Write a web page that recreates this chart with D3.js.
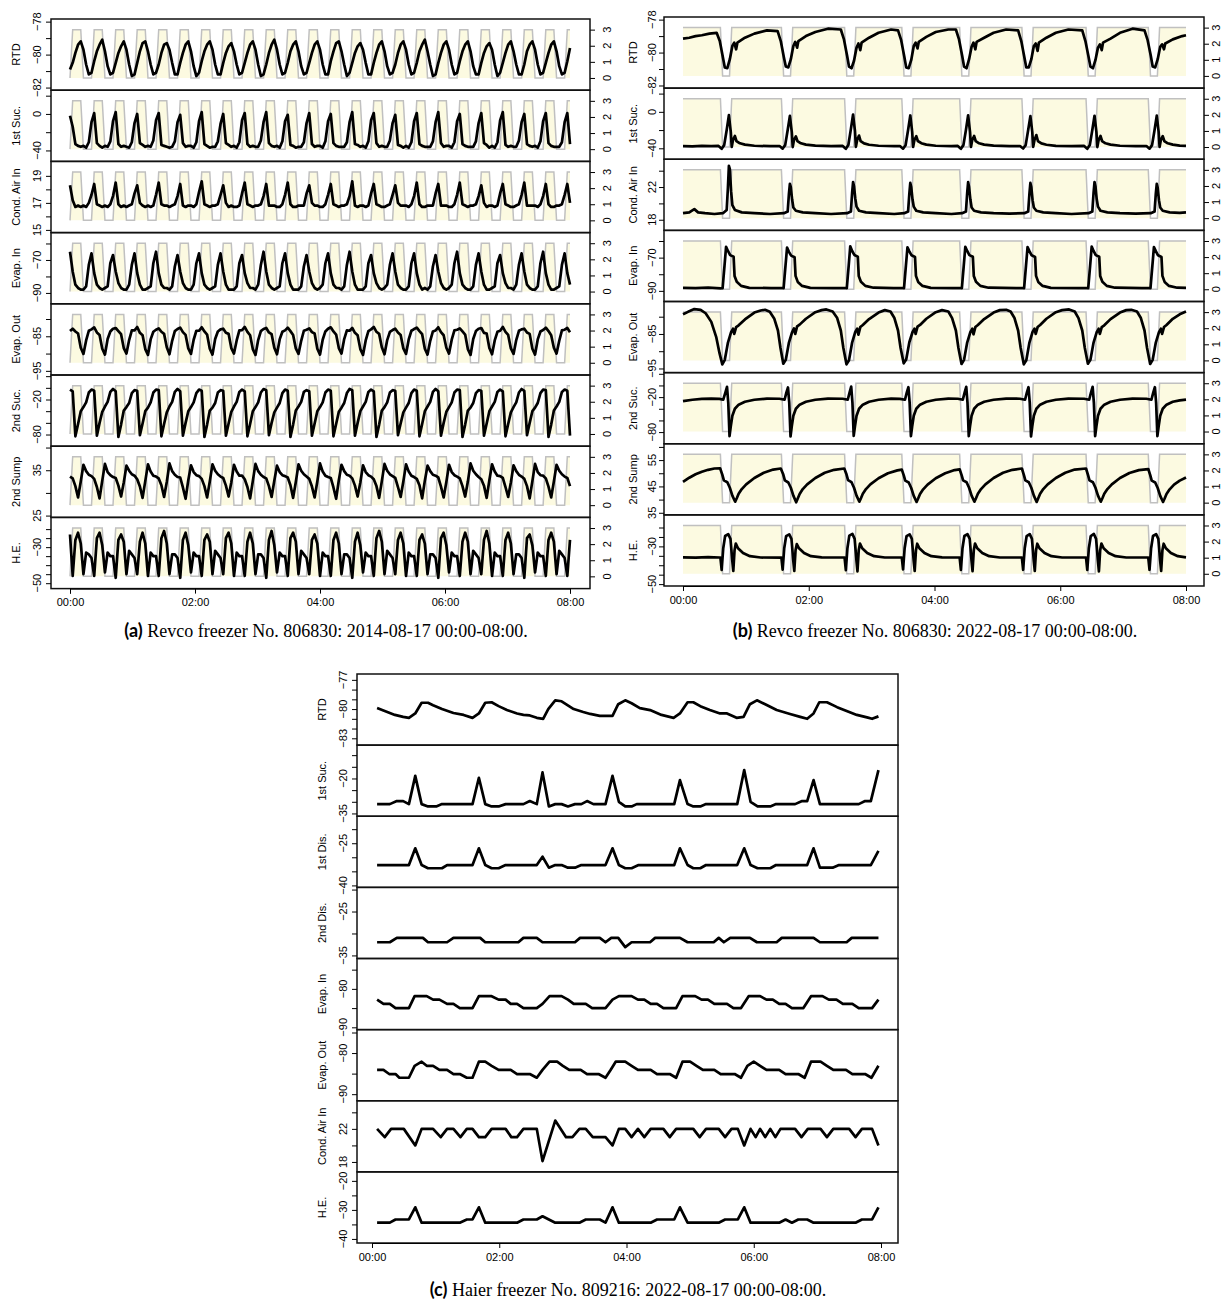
<!DOCTYPE html>
<html>
<head>
<meta charset="utf-8">
<script src="https://cdn.jsdelivr.net/npm/d3@7"></script>
<style>
  body { margin: 0; background: #fff; }
  svg text { font-family: "Liberation Sans", Arial, sans-serif; }
</style>
</head>
<body>
<svg id="chart" width="1224" height="1301"></svg>
<script>
// ---------- (a) Revco 2014: evenly sampled log, one value every 8/186 h ----------
const HOURS_A = 8 / 186;

const stepA = [
  0,3,3,3,3,0,0,0, 0,3,3,3,3,0,0,0, 0,3,3,3,3,0,0,0, 0,3,3,3,3,0,0,0,
  0,3,3,3,3,0,0,0, 0,3,3,3,3,0,0,0, 0,3,3,3,3,0,0,0, 0,3,3,3,3,0,0,0,
  0,3,3,3,3,0,0,0, 0,3,3,3,3,0,0,0, 0,3,3,3,3,0,0,0, 0,3,3,3,3,0,0,0,
  0,3,3,3,3,0,0,0, 0,3,3,3,3,0,0,0, 0,3,3,3,3,0,0,0, 0,3,3,3,3,0,0,0,
  0,3,3,3,3,0,0,0, 0,3,3,3,3,0,0,0, 0,3,3,3,3,0,0,0, 0,3,3,3,3,0,0,0,
  0,3,3,3,3,0,0,0, 0,3,3,3,3,0,0,0, 0,3,3,3,3,0,0,0, 0,3,3
];

const rtdA = [
  -80.9,-80.5,-79.9,-79.4,-79.2,-79.7,-80.6,-81.2, -81.1,-80.4,-79.8,-79.4,-79.1,-79.8,-80.7,-81.2,
  -81.1,-80.5,-79.9,-79.5,-79.2,-79.7,-80.6,-81.3, -81.2,-80.5,-79.8,-79.3,-79.2,-79.8,-80.6,-81.2,
  -81.1,-80.6,-79.9,-79.4,-79.3,-79.7,-80.5,-81.2, -81.2,-80.5,-79.9,-79.4,-79.2,-79.8,-80.7,-81.3,
  -81.1,-80.4,-79.8,-79.4,-79.2,-79.7,-80.6,-81.2, -81.2,-80.5,-79.9,-79.5,-79.3,-79.8,-80.6,-81.2,
  -81.1,-80.5,-79.9,-79.4,-79.2,-79.7,-80.6,-81.3, -81.2,-80.6,-79.9,-79.4,-79.1,-79.7,-80.6,-81.2,
  -81.1,-80.5,-79.8,-79.4,-79.2,-79.8,-80.7,-81.2, -81.1,-80.5,-79.9,-79.4,-79.2,-79.7,-80.6,-81.2,
  -81.2,-80.4,-79.8,-79.3,-79.2,-79.8,-80.6,-81.3, -81.1,-80.5,-79.9,-79.5,-79.3,-79.7,-80.5,-81.2,
  -81.2,-80.5,-79.9,-79.4,-79.2,-79.8,-80.7,-81.2, -81.1,-80.6,-79.9,-79.4,-79.2,-79.7,-80.6,-81.2,
  -81.1,-80.5,-79.8,-79.4,-79.1,-79.8,-80.6,-81.3, -81.2,-80.5,-79.9,-79.4,-79.2,-79.7,-80.6,-81.2,
  -81.1,-80.4,-79.8,-79.4,-79.2,-79.8,-80.7,-81.2, -81.2,-80.5,-79.9,-79.5,-79.3,-79.7,-80.6,-81.3,
  -81.1,-80.5,-79.9,-79.4,-79.2,-79.8,-80.6,-81.2, -81.2,-80.6,-79.8,-79.4,-79.2,-79.7,-80.6,-81.2,
  -81.1,-80.5,-79.9,-79.4,-79.2,-79.8,-80.7,-81.2, -81.1,-80.4,-79.6
];

const suc1A = [
  -2,-14,-33,-35,-36,-35,-37,-31, -9,1,-32,-35,-37,-35,-36,-30, -8,2,-33,-36,-35,-36,-37,-31,
  -10,0,-32,-34,-36,-35,-36,-29, -7,1,-34,-35,-36,-37,-36,-30, -9,-1,-32,-36,-35,-35,-37,-31,
  -8,2,-33,-35,-37,-36,-36,-30, -11,0,-32,-34,-36,-35,-37,-31, -7,1,-33,-36,-35,-36,-36,-29,
  -9,2,-32,-35,-36,-35,-37,-30, -8,-1,-34,-35,-37,-36,-36,-31, -10,1,-33,-36,-35,-35,-37,-30,
  -8,0,-32,-35,-36,-36,-36,-31, -9,2,-33,-34,-36,-35,-37,-30, -7,1,-32,-36,-35,-36,-36,-29,
  -10,-1,-34,-35,-37,-35,-37,-31, -8,1,-33,-35,-36,-36,-36,-30, -9,2,-32,-36,-35,-35,-37,-31,
  -8,0,-33,-35,-36,-36,-36,-30, -10,1,-32,-34,-37,-35,-37,-31, -7,2,-34,-36,-35,-36,-36,-29,
  -9,0,-33,-35,-36,-35,-37,-30, -8,1,-32,-35,-36,-36,-36,-31, -9,1,-33
];

const cairA = [
  18.3,17.2,16.7,16.8,16.7,16.8,16.7,17.0, 17.6,18.4,16.9,16.8,16.7,16.8,16.7,16.9,
  17.5,18.5,16.9,16.7,16.8,16.7,16.8,16.9, 17.7,18.3,17.0,16.8,16.7,16.8,16.7,16.8,
  17.6,18.5,16.9,16.8,16.8,16.7,16.8,16.9, 17.5,18.4,16.8,16.7,16.8,16.8,16.7,16.9,
  17.8,18.6,16.9,16.8,16.7,16.8,16.8,16.9, 17.6,18.3,17.0,16.7,16.8,16.7,16.7,16.8,
  17.7,18.5,16.9,16.8,16.7,16.8,16.8,16.9, 17.5,18.4,16.8,16.8,16.8,16.7,16.7,16.9,
  17.6,18.5,16.9,16.7,16.7,16.8,16.8,16.8, 17.7,18.3,17.0,16.8,16.8,16.7,16.7,16.9,
  17.6,18.4,16.9,16.8,16.7,16.8,16.8,16.9, 17.5,18.6,16.8,16.7,16.8,16.8,16.7,16.8,
  17.7,18.4,16.9,16.8,16.7,16.7,16.8,16.9, 17.6,18.3,17.0,16.8,16.8,16.8,16.7,16.9,
  17.5,18.5,16.9,16.7,16.7,16.8,16.8,16.8, 17.7,18.4,16.8,16.8,16.8,16.7,16.7,16.9,
  17.6,18.5,16.9,16.8,16.7,16.8,16.8,16.9, 17.5,18.3,17.0,16.7,16.8,16.8,16.7,16.8,
  17.7,18.4,16.9,16.8,16.7,16.7,16.8,16.9, 17.6,18.5,16.8,16.8,16.8,16.8,16.7,16.9,
  17.5,18.4,16.9,16.7,16.7,16.8,16.8,16.9, 17.6,18.4,17.0
];

const evinA = [
  -65,-77,-85,-87,-88,-88,-86,-73, -66,-78,-85,-87,-88,-87,-86,-72, -67,-77,-84,-87,-88,-88,-85,-73,
  -66,-78,-85,-88,-88,-87,-86,-72, -65,-78,-85,-87,-87,-88,-86,-74, -67,-77,-84,-87,-88,-88,-85,-72,
  -66,-78,-85,-87,-88,-87,-86,-73, -66,-77,-85,-88,-88,-88,-86,-72, -67,-78,-84,-87,-87,-88,-85,-73,
  -65,-77,-85,-87,-88,-87,-86,-72, -66,-78,-85,-88,-88,-88,-86,-74, -67,-77,-84,-87,-88,-87,-85,-72,
  -66,-78,-85,-87,-87,-88,-86,-73, -65,-77,-85,-88,-88,-88,-86,-72, -67,-78,-84,-87,-88,-87,-85,-73,
  -66,-77,-85,-87,-88,-88,-86,-72, -66,-78,-85,-88,-87,-88,-86,-74, -67,-77,-84,-87,-88,-87,-85,-72,
  -65,-78,-85,-87,-88,-88,-86,-73, -66,-77,-85,-88,-88,-87,-86,-72, -67,-78,-84,-87,-87,-88,-85,-73,
  -66,-77,-85,-87,-88,-88,-86,-72, -65,-78,-85,-88,-88,-87,-86,-73, -66,-78,-85
];

const evoutA = [
  -83.5,-82.8,-83.6,-84.2,-88.3,-90.1,-86.2,-83.4, -83.0,-82.4,-83.9,-84.6,-88.6,-90.3,-85.8,-83.6,
  -82.8,-82.6,-83.5,-84.4,-88.4,-90.0,-86.1,-83.3, -83.3,-82.3,-84.0,-84.7,-88.7,-90.4,-85.9,-83.7,
  -83.1,-82.7,-83.7,-84.3,-88.2,-90.2,-86.3,-83.5, -82.9,-82.5,-83.8,-84.6,-88.5,-90.1,-86.0,-83.4,
  -83.4,-82.4,-83.6,-84.5,-88.6,-90.3,-85.8,-83.6, -83.0,-82.8,-84.0,-84.3,-88.4,-90.0,-86.2,-83.3,
  -83.2,-82.3,-83.7,-84.7,-88.7,-90.4,-86.1,-83.5, -82.9,-82.6,-83.9,-84.4,-88.3,-90.2,-85.9,-83.7,
  -83.3,-82.5,-83.5,-84.6,-88.5,-90.1,-86.3,-83.4, -83.1,-82.7,-83.8,-84.2,-88.6,-90.3,-86.0,-83.6,
  -82.8,-82.4,-83.6,-84.5,-88.4,-90.0,-85.8,-83.3, -83.4,-82.6,-84.0,-84.7,-88.7,-90.4,-86.2,-83.5,
  -83.0,-82.3,-83.7,-84.3,-88.2,-90.2,-86.1,-83.7, -83.2,-82.8,-83.9,-84.6,-88.5,-90.1,-85.9,-83.4,
  -82.9,-82.5,-83.5,-84.4,-88.6,-90.3,-86.3,-83.6, -83.3,-82.4,-83.8,-84.7,-88.3,-90.0,-86.0,-83.3,
  -83.1,-82.7,-83.6,-84.5,-88.7,-90.4,-85.8,-83.5, -82.8,-82.6,-84.0,-84.2,-88.4,-90.2,-86.2,-83.7,
  -83.4,-82.3,-83.7,-84.6,-88.5,-90.1,-86.1,-83.4, -83.0,-82.8,-83.9,-84.3,-88.6,-90.3,-85.9,-83.6,
  -83.2,-82.5,-83.5,-84.7,-88.3,-90.0,-86.3,-83.3, -83.1,-82.6,-83.8
];

const suc2A = [
  -3,-6,-83,-62,-40,-33,-25,-8, -3,-5,-82,-60,-41,-32,-24,-7, -2,-6,-84,-63,-39,-33,-26,-9,
  -4,-5,-81,-61,-40,-34,-25,-8, -3,-4,-83,-62,-42,-32,-24,-7, -2,-6,-82,-60,-40,-33,-25,-9,
  -3,-5,-84,-63,-39,-34,-26,-8, -4,-5,-82,-61,-41,-32,-24,-7, -3,-6,-83,-62,-40,-33,-25,-8,
  -2,-4,-81,-60,-42,-34,-26,-9, -3,-5,-84,-63,-39,-32,-24,-7, -4,-6,-82,-61,-40,-33,-25,-8,
  -3,-5,-83,-62,-41,-34,-26,-9, -2,-4,-82,-60,-40,-32,-24,-7, -3,-6,-84,-63,-39,-33,-25,-8,
  -4,-5,-81,-61,-42,-34,-26,-9, -3,-5,-83,-62,-40,-32,-24,-7, -2,-6,-82,-60,-41,-33,-25,-8,
  -3,-4,-84,-63,-39,-34,-26,-9, -4,-5,-82,-61,-40,-32,-24,-7, -3,-6,-83,-62,-42,-33,-25,-8,
  -2,-5,-81,-60,-40,-34,-26,-9, -3,-4,-84,-63,-39,-32,-24,-7, -3,-5,-82
];

const sumpA = [
  33.6,33.2,31.5,29.0,32.5,36.2,34.8,34.0, 33.7,33.1,31.3,28.8,32.7,36.4,34.6,33.9,
  33.5,33.3,31.6,29.2,32.3,36.0,34.9,34.1, 33.8,33.0,31.4,28.9,32.6,36.3,34.7,33.8,
  33.6,33.2,31.7,29.1,32.4,36.5,34.8,34.0, 33.5,33.4,31.2,28.7,32.8,36.1,34.6,33.9,
  33.7,33.1,31.5,29.0,32.5,36.3,34.9,34.1, 33.6,33.3,31.6,29.2,32.3,36.2,34.7,33.8,
  33.8,33.0,31.3,28.8,32.6,36.4,34.8,34.0, 33.5,33.2,31.5,29.1,32.7,36.0,34.6,33.9,
  33.7,33.4,31.7,28.9,32.4,36.3,34.9,34.1, 33.6,33.1,31.4,29.0,32.5,36.5,34.7,33.8,
  33.5,33.3,31.2,28.7,32.8,36.2,34.8,34.0, 33.8,33.2,31.6,29.2,32.3,36.1,34.6,33.9,
  33.6,33.0,31.5,28.9,32.6,36.4,34.9,34.1, 33.7,33.3,31.3,29.1,32.5,36.3,34.7,33.8,
  33.5,33.1,31.7,28.8,32.7,36.0,34.8,34.0, 33.8,33.4,31.4,29.0,32.4,36.2,34.6,33.9,
  33.6,33.2,31.5,29.2,32.5,36.5,34.9,34.1, 33.5,33.0,31.6,28.9,32.8,36.3,34.7,33.8,
  33.7,33.3,31.3,29.1,32.3,36.1,34.8,34.0, 33.6,33.1,31.5,28.8,32.6,36.4,34.6,33.9,
  33.8,33.2,31.4,29.0,32.5,36.2,34.9,34.1, 33.6,33.3,31.5
];

const heA = [
  -23,-46,-26,-22,-28,-45,-33,-34, -36,-46,-25,-22,-29,-44,-33,-35, -35,-47,-26,-23,-27,-45,-32,-34,
  -36,-45,-27,-22,-28,-46,-33,-35, -35,-46,-25,-21,-28,-45,-34,-34, -36,-47,-26,-22,-29,-44,-33,-35,
  -35,-46,-26,-23,-27,-45,-32,-34, -36,-45,-25,-22,-28,-46,-33,-35, -35,-46,-27,-22,-28,-45,-34,-34,
  -36,-47,-26,-21,-29,-44,-33,-35, -35,-46,-25,-22,-27,-45,-32,-34, -36,-45,-26,-23,-28,-46,-33,-35,
  -35,-46,-26,-22,-28,-45,-34,-34, -36,-47,-27,-22,-29,-44,-33,-35, -35,-46,-25,-21,-27,-45,-32,-34,
  -36,-45,-26,-22,-28,-46,-33,-35, -35,-46,-26,-23,-28,-45,-34,-34, -36,-47,-25,-22,-29,-44,-33,-35,
  -35,-46,-27,-22,-27,-45,-32,-34, -36,-45,-26,-21,-28,-46,-33,-35, -35,-46,-26,-22,-28,-45,-34,-34,
  -36,-47,-25,-23,-29,-44,-33,-35, -35,-46,-26,-22,-27,-45,-32,-34, -36,-46,-26
];

// ---------- (b) Revco 2022: [hour, value] points ----------
const stepB = [[0,3],[0.595,3],[0.63,0],[0.74,0],[0.775,3],[1.565,3],[1.6,0],[1.71,0],[1.745,3],
  [2.57,3],[2.605,0],[2.715,0],[2.75,3],[3.48,3],[3.515,0],[3.625,0],[3.66,3],[4.4,3],[4.435,0],[4.545,0],[4.58,3],
  [5.39,3],[5.425,0],[5.535,0],[5.57,3],[6.41,3],[6.445,0],[6.555,0],[6.59,3],[7.4,3],[7.435,0],[7.545,0],[7.58,3],[8,3]];

const rtdB = [[0,-79.15],[0.1,-79.1],[0.2,-79.0],[0.3,-78.95],[0.42,-78.85],[0.535,-78.8],[0.585,-79.3],[0.635,-80.3],[0.665,-80.9],[0.705,-80.95],[0.745,-80.4],[0.785,-79.6],[0.815,-79.4],[0.845,-79.8],[0.865,-79.4],[0.985,-79.1],[1.135,-78.85],[1.335,-78.65],
  [1.505,-78.7],[1.555,-79.3],[1.605,-80.3],[1.635,-80.85],[1.675,-80.9],[1.715,-80.4],[1.755,-79.6],[1.785,-79.35],[1.815,-79.7],[1.835,-79.3],[1.955,-79.0],[2.105,-78.75],[2.305,-78.55],
  [2.51,-78.6],[2.56,-79.2],[2.61,-80.2],[2.64,-80.85],[2.68,-80.95],[2.72,-80.5],[2.76,-79.7],[2.79,-79.45],[2.82,-79.85],[2.84,-79.4],[2.96,-79.1],[3.11,-78.8],[3.31,-78.6],
  [3.42,-78.65],[3.47,-79.25],[3.52,-80.25],[3.55,-80.9],[3.59,-80.95],[3.63,-80.45],[3.67,-79.6],[3.70,-79.4],[3.73,-79.75],[3.75,-79.35],[3.87,-79.05],[4.02,-78.75],[4.22,-78.6],
  [4.34,-78.6],[4.39,-79.2],[4.44,-80.2],[4.47,-80.85],[4.51,-80.95],[4.55,-80.4],[4.59,-79.65],[4.62,-79.4],[4.65,-79.8],[4.67,-79.35],[4.79,-79.1],[4.94,-78.8],[5.14,-78.6],
  [5.33,-78.65],[5.38,-79.3],[5.43,-80.3],[5.46,-80.9],[5.50,-80.9],[5.54,-80.4],[5.58,-79.6],[5.61,-79.45],[5.64,-79.9],[5.66,-79.4],[5.78,-79.1],[5.93,-78.8],[6.13,-78.6],
  [6.35,-78.65],[6.40,-79.3],[6.45,-80.25],[6.48,-80.85],[6.52,-80.95],[6.56,-80.45],[6.60,-79.7],[6.63,-79.5],[6.66,-79.85],[6.68,-79.4],[6.80,-79.15],[6.95,-78.8],[7.15,-78.55],
  [7.34,-78.65],[7.39,-79.25],[7.44,-80.2],[7.47,-80.85],[7.51,-80.9],[7.55,-80.4],[7.59,-79.65],[7.62,-79.5],[7.65,-79.8],[7.67,-79.45],[7.79,-79.2],[7.94,-79.0],[8.0,-78.95]];

const suc1B = [[0,-37.5],[0.15,-37.8],[0.3,-37.4],[0.45,-37.7],
  [0.565,-37.4],[0.615,-40.5],[0.655,-36.5],[0.695,-20],[0.73,-3.6],[0.76,-22],[0.775,-38.5],[0.795,-31],[0.825,-26.5],[0.85,-32],[0.905,-34.5],[0.985,-36],[1.135,-37.2],[1.385,-37.7],
  [1.535,-37.5],[1.585,-40.3],[1.625,-36.5],[1.665,-20],[1.70,-4.5],[1.73,-22],[1.745,-38.6],[1.765,-31],[1.795,-27],[1.82,-32],[1.875,-34.5],[1.955,-36],[2.105,-37.1],[2.355,-37.6],
  [2.54,-37.4],[2.59,-40.6],[2.63,-36.4],[2.67,-19],[2.705,-3.0],[2.735,-21],[2.75,-38.4],[2.77,-31],[2.80,-26.0],[2.825,-32],[2.88,-34.6],[2.96,-36.1],[3.11,-37.2],[3.36,-37.6],
  [3.45,-37.5],[3.50,-40.4],[3.54,-36.6],[3.58,-20],[3.615,-4.0],[3.645,-22],[3.66,-38.5],[3.68,-31],[3.71,-26.8],[3.735,-32],[3.79,-34.4],[3.87,-36],[4.02,-37.2],[4.27,-37.7],
  [4.37,-37.4],[4.42,-40.5],[4.46,-36.5],[4.50,-20],[4.535,-3.8],[4.565,-22],[4.58,-38.5],[4.60,-31],[4.63,-26.5],[4.655,-32],[4.71,-34.5],[4.79,-36],[4.94,-37.1],[5.19,-37.6],
  [5.36,-37.5],[5.41,-40.2],[5.45,-36.5],[5.49,-20],[5.525,-4.7],[5.555,-22],[5.57,-38.4],[5.59,-31],[5.62,-25.5],[5.645,-32],[5.70,-34.6],[5.78,-36.1],[5.93,-37.3],[6.18,-37.6],
  [6.38,-37.4],[6.43,-40.6],[6.47,-36.5],[6.51,-20],[6.545,-4.3],[6.575,-22],[6.59,-38.6],[6.61,-31],[6.64,-26.5],[6.665,-32],[6.72,-34.5],[6.80,-36],[6.95,-37.2],[7.2,-37.7],
  [7.37,-37.5],[7.42,-40.4],[7.46,-36.5],[7.50,-20],[7.535,-4.2],[7.565,-22],[7.58,-38.5],[7.60,-31],[7.63,-26.7],[7.655,-32],[7.71,-34.5],[7.79,-36],[7.9,-37.1],[8.0,-37.4]];

const cairB = [[0,18.8],[0.1,18.9],[0.18,19.3],[0.24,18.9],[0.35,18.8],[0.5,18.7],
  [0.635,18.8],[0.695,19.2],[0.715,22],[0.73,24.6],[0.745,24.2],[0.765,21.5],[0.785,19.8],[0.825,19.2],[0.935,18.9],[1.135,18.8],[1.385,18.7],
  [1.605,18.8],[1.665,19.0],[1.685,21.2],[1.70,22.4],[1.715,22.0],[1.735,20.5],[1.755,19.5],[1.795,19.1],[1.905,18.9],[2.105,18.8],[2.355,18.7],
  [2.61,18.8],[2.67,19.0],[2.69,21.3],[2.705,22.6],[2.72,22.1],[2.74,20.6],[2.76,19.6],[2.80,19.1],[2.91,18.9],[3.11,18.8],[3.36,18.7],
  [3.52,18.8],[3.58,19.0],[3.6,21.2],[3.615,22.5],[3.63,22.0],[3.65,20.5],[3.67,19.6],[3.71,19.1],[3.82,18.9],[4.02,18.8],[4.27,18.7],
  [4.44,18.8],[4.5,19.0],[4.52,21.3],[4.535,22.6],[4.55,22.0],[4.57,20.5],[4.59,19.5],[4.63,19.1],[4.74,18.9],[4.94,18.8],[5.19,18.75],
  [5.43,18.8],[5.49,19.0],[5.51,21.2],[5.525,22.5],[5.54,22.0],[5.56,20.4],[5.58,19.5],[5.62,19.1],[5.73,18.9],[5.93,18.8],[6.18,18.7],
  [6.45,18.8],[6.51,19.0],[6.53,21.3],[6.545,22.6],[6.56,22.1],[6.58,20.5],[6.6,19.6],[6.64,19.1],[6.75,18.9],[6.95,18.8],[7.2,18.75],
  [7.44,18.8],[7.5,19.0],[7.52,21.2],[7.535,22.4],[7.55,21.9],[7.57,20.4],[7.59,19.5],[7.63,19.1],[7.74,18.9],[7.9,18.85],[8.0,18.9]];

const evinB = [[0,-88.2],[0.2,-88.4],[0.4,-88.1],[0.6,-88.5],
  [0.63,-88.4],[0.66,-75],[0.685,-63.5],[0.715,-66],[0.75,-68.5],[0.805,-69.5],[0.82,-81],[0.855,-84.5],[0.925,-87],[1.055,-88.2],[1.4,-88.3],
  [1.6,-88.3],[1.63,-75],[1.655,-64],[1.685,-66.5],[1.72,-68.8],[1.775,-69.8],[1.79,-81],[1.825,-84.6],[1.895,-87],[2.025,-88.2],[2.4,-88.4],
  [2.605,-88.3],[2.635,-75],[2.66,-63.2],[2.69,-66],[2.725,-68.4],[2.78,-69.4],[2.795,-81],[2.83,-84.5],[2.9,-87],[3.03,-88.1],[3.35,-88.3],
  [3.515,-88.4],[3.545,-75],[3.57,-63.8],[3.6,-66.2],[3.635,-68.6],[3.69,-69.6],[3.705,-81],[3.74,-84.6],[3.81,-87],[3.94,-88.2],[4.3,-88.3],
  [4.435,-88.3],[4.465,-75],[4.49,-63.5],[4.52,-66],[4.555,-68.5],[4.61,-69.5],[4.625,-81],[4.66,-84.5],[4.73,-87],[4.86,-88.1],[5.3,-88.3],
  [5.425,-88.4],[5.455,-75],[5.48,-63.7],[5.51,-66.1],[5.545,-68.6],[5.6,-69.6],[5.615,-81],[5.65,-84.6],[5.72,-87],[5.85,-88.2],[6.3,-88.3],
  [6.445,-88.3],[6.475,-75],[6.5,-63.4],[6.53,-66],[6.565,-68.5],[6.62,-69.5],[6.635,-81],[6.67,-84.5],[6.74,-87],[6.87,-88.1],[7.3,-88.3],
  [7.435,-88.4],[7.465,-75],[7.49,-63.6],[7.52,-66.1],[7.555,-68.6],[7.61,-69.6],[7.625,-81],[7.66,-84.6],[7.73,-87],[7.86,-88.1],[8.0,-88.2]];

const evoutB = [[0,-79.3],[0.08,-78.6],[0.18,-77.8],[0.28,-78.0],[0.36,-79.0],[0.45,-81.5],[0.53,-86],[0.58,-90.5],[0.625,-93.8],[0.665,-92.5],[0.715,-87.5],[0.765,-84.5],[0.795,-83.5],[0.815,-85],[0.845,-83],[0.885,-82.5],[0.985,-80.8],[1.135,-78.8],[1.235,-78.2],[1.305,-78],
  [1.38,-78.6],[1.45,-80.5],[1.51,-84],[1.55,-89],[1.595,-93.6],[1.635,-92.5],[1.685,-87.5],[1.735,-84.5],[1.765,-83.4],[1.785,-85],[1.815,-82.8],[1.855,-82.3],[1.955,-80.6],[2.105,-78.7],[2.205,-78.1],[2.28,-77.9],
  [2.38,-78.5],[2.45,-80.3],[2.51,-84],[2.55,-89],[2.6,-93.8],[2.64,-92.6],[2.69,-87.5],[2.74,-84.4],[2.77,-83.5],[2.79,-85.2],[2.82,-83],[2.86,-82.4],[2.96,-80.7],[3.11,-78.8],[3.21,-78.1],
  [3.3,-78.5],[3.36,-80.3],[3.42,-84],[3.46,-89],[3.51,-93.5],[3.55,-92.4],[3.6,-87.4],[3.65,-84.5],[3.68,-83.5],[3.70,-85],[3.73,-82.9],[3.77,-82.4],[3.87,-80.6],[4.02,-78.7],[4.12,-78.1],
  [4.22,-78.5],[4.28,-80.4],[4.34,-84],[4.38,-89],[4.43,-93.7],[4.47,-92.5],[4.52,-87.5],[4.57,-84.5],[4.6,-83.5],[4.62,-85.1],[4.65,-83],[4.69,-82.4],[4.79,-80.7],[4.94,-78.8],[5.04,-78.1],[5.14,-78],
  [5.21,-78.5],[5.27,-80.3],[5.33,-84],[5.37,-89],[5.42,-93.8],[5.46,-92.6],[5.51,-87.5],[5.56,-84.4],[5.59,-83.5],[5.61,-85],[5.64,-83],[5.68,-82.4],[5.78,-80.6],[5.93,-78.7],[6.03,-78.1],[6.14,-77.9],
  [6.23,-78.5],[6.29,-80.4],[6.35,-84],[6.39,-89],[6.44,-93.6],[6.48,-92.5],[6.53,-87.5],[6.58,-84.5],[6.61,-83.5],[6.63,-85],[6.66,-83],[6.7,-82.5],[6.8,-80.7],[6.95,-78.8],[7.05,-78.1],[7.13,-78],
  [7.22,-78.5],[7.28,-80.3],[7.34,-84],[7.38,-89],[7.43,-93.7],[7.47,-92.5],[7.52,-87.5],[7.57,-84.5],[7.6,-83.5],[7.62,-85],[7.65,-83],[7.69,-82.4],[7.79,-80.6],[7.9,-79.3],[8.0,-78.5]];

const suc2B = [[0,-27],[0.15,-24.5],[0.3,-23],[0.45,-22.5],[0.58,-23],[0.64,-24.5],
  [0.675,-12],[0.7,-2.5],[0.72,-30],[0.74,-87],[0.76,-70],[0.785,-52],[0.825,-40],[0.885,-33],[0.985,-28],[1.135,-24.5],[1.335,-22.5],[1.535,-22.8],[1.615,-24.5],
  [1.645,-12],[1.67,-3.5],[1.69,-30],[1.71,-87.5],[1.73,-70],[1.755,-52],[1.795,-40],[1.855,-33],[1.955,-28],[2.105,-24.5],[2.305,-22.5],[2.54,-22.8],[2.62,-24.5],
  [2.65,-12],[2.675,-2],[2.695,-30],[2.715,-86.5],[2.735,-70],[2.76,-52],[2.8,-40],[2.86,-33],[2.96,-28],[3.11,-24.5],[3.31,-22.6],[3.45,-22.9],[3.53,-24.5],
  [3.56,-12],[3.585,-3],[3.605,-30],[3.625,-87],[3.645,-70],[3.67,-52],[3.71,-40],[3.77,-33],[3.87,-28],[4.02,-24.5],[4.22,-22.5],[4.37,-22.8],[4.45,-24.5],
  [4.48,-12],[4.505,-2.5],[4.525,-30],[4.545,-87],[4.565,-70],[4.59,-52],[4.63,-40],[4.69,-33],[4.79,-28],[4.94,-24.5],[5.14,-22.5],[5.36,-22.8],[5.44,-24.5],
  [5.47,-12],[5.495,-3],[5.515,-30],[5.535,-87.5],[5.555,-70],[5.58,-52],[5.62,-40],[5.68,-33],[5.78,-28],[5.93,-24.5],[6.13,-22.5],[6.38,-22.8],[6.46,-24.5],
  [6.49,-12],[6.515,-2.5],[6.535,-30],[6.555,-87],[6.575,-70],[6.6,-52],[6.64,-40],[6.7,-33],[6.8,-28],[6.95,-24.5],[7.15,-22.5],[7.37,-22.8],[7.45,-24.5],
  [7.48,-12],[7.505,-3],[7.525,-30],[7.545,-87],[7.565,-70],[7.59,-52],[7.63,-40],[7.69,-33],[7.79,-28],[7.9,-25.5],[8.0,-24.3]];

const sumpB = [[0,46.7],[0.1,48.3],[0.2,49.6],[0.3,50.6],[0.4,51.3],[0.5,51.8],[0.59,51.9],
  [0.625,49.5],[0.65,47.3],[0.705,46.6],[0.745,44.5],[0.785,41.5],[0.83,39.2],[0.855,40.5],[0.885,42.2],[0.935,44],[1.005,45.8],[1.135,48.2],[1.285,50.2],[1.435,51.4],[1.555,51.8],
  [1.595,49.5],[1.62,47.3],[1.675,46.5],[1.715,44.5],[1.755,41.5],[1.8,39.0],[1.825,40.4],[1.855,42.1],[1.905,44],[1.975,45.8],[2.105,48.2],[2.255,50.2],[2.405,51.3],[2.565,51.8],
  [2.6,49.6],[2.625,47.4],[2.68,46.6],[2.72,44.5],[2.76,41.5],[2.805,39.2],[2.83,40.5],[2.86,42.2],[2.91,44],[2.98,45.8],[3.11,48.1],[3.26,50.0],[3.41,51.1],[3.48,51.4],
  [3.51,49.3],[3.535,47.2],[3.59,46.5],[3.63,44.4],[3.67,41.4],[3.715,39.1],[3.74,40.4],[3.77,42.1],[3.82,43.9],[3.89,45.7],[4.02,48.1],[4.17,50.0],[4.32,51.2],[4.40,51.5],
  [4.43,49.4],[4.455,47.3],[4.51,46.6],[4.55,44.5],[4.59,41.5],[4.635,39.2],[4.66,40.5],[4.69,42.2],[4.74,44],[4.81,45.8],[4.94,48.2],[5.09,50.2],[5.24,51.3],[5.39,51.8],
  [5.42,49.5],[5.445,47.3],[5.5,46.6],[5.54,44.5],[5.58,41.5],[5.625,39.1],[5.65,40.5],[5.68,42.2],[5.73,44],[5.8,45.8],[5.93,48.2],[6.08,50.2],[6.23,51.4],[6.41,51.8],
  [6.44,49.5],[6.465,47.3],[6.52,46.6],[6.56,44.5],[6.6,41.5],[6.645,39.2],[6.67,40.5],[6.7,42.2],[6.75,44],[6.82,45.8],[6.95,48.2],[7.1,50.1],[7.25,51.2],[7.4,51.6],
  [7.43,49.4],[7.455,47.2],[7.51,46.5],[7.55,44.4],[7.59,41.4],[7.635,39.1],[7.66,40.4],[7.69,42.1],[7.74,43.9],[7.81,45.7],[7.9,47.2],[8.0,48.4]];

const heB = [[0,-35.8],[0.2,-36.0],[0.4,-35.7],[0.58,-35.9],
  [0.595,-35.9],[0.615,-42.5],[0.64,-31],[0.67,-24.5],[0.72,-23.5],[0.755,-26],[0.785,-38],[0.8,-43],[0.82,-32],[0.84,-28.5],[0.875,-31],[0.955,-33.5],[1.065,-35.2],[1.235,-35.9],
  [1.565,-36],[1.585,-42.3],[1.61,-31],[1.64,-24.6],[1.69,-23.6],[1.725,-26],[1.755,-38],[1.77,-43],[1.79,-32],[1.81,-28.8],[1.845,-31],[1.925,-33.5],[2.035,-35.2],[2.205,-35.8],
  [2.57,-35.9],[2.59,-42.6],[2.615,-31],[2.645,-24.3],[2.695,-23.4],[2.73,-26],[2.76,-38],[2.775,-43.2],[2.795,-32],[2.815,-28.5],[2.85,-31],[2.93,-33.5],[3.04,-35.2],[3.21,-35.9],
  [3.48,-35.9],[3.5,-42.2],[3.525,-31],[3.555,-24.6],[3.605,-23.6],[3.64,-26],[3.67,-38],[3.685,-43],[3.705,-32],[3.725,-28.6],[3.76,-31],[3.84,-33.5],[3.95,-35.2],[4.12,-35.8],
  [4.4,-35.9],[4.42,-42.5],[4.445,-31],[4.475,-24.5],[4.525,-23.5],[4.56,-26],[4.59,-38],[4.605,-43.1],[4.625,-32],[4.645,-28.5],[4.68,-31],[4.76,-33.5],[4.87,-35.2],[5.04,-35.9],
  [5.39,-35.9],[5.41,-42.4],[5.435,-31],[5.465,-24.6],[5.515,-23.5],[5.55,-26],[5.58,-38],[5.595,-43],[5.615,-32],[5.635,-28.6],[5.67,-31],[5.75,-33.5],[5.86,-35.2],[6.03,-35.9],
  [6.41,-35.9],[6.43,-42.5],[6.455,-31],[6.485,-24.5],[6.535,-23.4],[6.57,-26],[6.6,-38],[6.615,-43.2],[6.635,-32],[6.655,-28.5],[6.69,-31],[6.77,-33.5],[6.88,-35.2],[7.05,-35.9],
  [7.4,-35.9],[7.42,-42.4],[7.445,-31],[7.475,-24.5],[7.525,-23.5],[7.56,-26],[7.59,-38],[7.605,-43],[7.625,-32],[7.645,-28.6],[7.68,-31],[7.76,-33.5],[7.87,-35.2],[8.0,-35.8]];

// ---------- (c) Haier 2022: [hour, value] points ----------
const rtdC = [[0.08,-79.9],[0.2,-80.2],[0.36,-80.6],[0.49,-80.8],[0.58,-80.9],[0.68,-80.45],[0.78,-79.35],[0.88,-79.35],[0.96,-79.6],[1.1,-80.0],[1.28,-80.4],[1.44,-80.6],[1.58,-80.9],[1.68,-80.45],[1.78,-79.35],[1.88,-79.3],[1.99,-79.7],[2.12,-80.1],[2.28,-80.45],[2.38,-80.6],[2.48,-80.65],[2.59,-80.9],[2.69,-81.0],[2.77,-80.0],[2.88,-79.1],[2.98,-79.2],[3.17,-80.0],[3.32,-80.3],[3.43,-80.5],[3.58,-80.7],[3.78,-80.7],[3.87,-79.5],[3.98,-79.1],[4.08,-79.4],[4.21,-79.9],[4.37,-80.1],[4.55,-80.6],[4.74,-80.9],[4.84,-80.45],[4.96,-79.3],[5.05,-79.3],[5.16,-79.7],[5.31,-80.1],[5.47,-80.45],[5.58,-80.45],[5.73,-80.9],[5.84,-80.8],[5.94,-79.5],[6.05,-79.1],[6.18,-79.5],[6.36,-80.1],[6.57,-80.5],[6.73,-80.8],[6.84,-81.0],[6.94,-80.45],[7.03,-79.3],[7.15,-79.3],[7.31,-79.8],[7.46,-80.2],[7.62,-80.6],[7.78,-80.85],[7.86,-81.0],[7.96,-80.75]];

const suc1C = [[0.08,-31],[0.28,-31],[0.39,-29.7],[0.49,-29.7],[0.58,-31],[0.68,-18.9],[0.78,-31],[0.88,-32],[1.01,-32],[1.1,-31],[1.58,-31],[1.68,-19.7],[1.78,-31],[1.88,-32],[1.99,-32],[2.1,-31],[2.38,-31],[2.48,-29.7],[2.59,-31],[2.68,-17.4],[2.78,-32],[2.88,-31],[2.98,-31],[3.08,-32],[3.19,-31],[3.29,-31],[3.38,-29.7],[3.48,-31],[3.67,-31],[3.78,-18.9],[3.88,-30],[3.98,-32],[4.08,-32],[4.16,-31],[4.75,-31],[4.84,-20.7],[4.96,-31],[5.05,-32],[5.16,-32],[5.25,-31],[5.74,-31],[5.85,-16.4],[5.95,-30],[6.06,-32],[6.26,-32],[6.35,-31],[6.65,-31],[6.76,-29.7],[6.84,-29.7],[6.94,-20.7],[7.04,-31],[7.65,-31],[7.75,-29.7],[7.84,-29.7],[7.96,-16.4]];

const dis1C = [[0.08,-32.75],[0.58,-32.75],[0.68,-26.8],[0.78,-32.75],[0.88,-33.9],[1.1,-33.9],[1.18,-32.75],[1.58,-32.75],[1.68,-26.8],[1.78,-32.75],[1.88,-33.9],[1.99,-33.9],[2.1,-32.75],[2.59,-32.75],[2.68,-29.8],[2.78,-33.7],[2.88,-32.75],[2.98,-32.75],[3.08,-33.7],[3.19,-33.7],[3.29,-32.75],[3.67,-32.75],[3.78,-26.8],[3.88,-32.75],[3.98,-33.9],[4.08,-33.9],[4.19,-32.75],[4.75,-32.75],[4.84,-26.8],[4.96,-32.75],[5.05,-33.9],[5.16,-33.9],[5.25,-32.75],[5.74,-32.75],[5.85,-26.8],[5.95,-32.75],[6.06,-33.9],[6.26,-33.9],[6.35,-32.75],[6.84,-32.75],[6.94,-26.8],[7.04,-33.7],[7.24,-33.7],[7.34,-32.75],[7.84,-32.75],[7.96,-27.75]];

const dis2C = [[0.08,-32],[0.28,-32],[0.39,-31],[0.8,-31],[0.88,-32],[1.18,-32],[1.28,-31],[1.7,-31],[1.78,-32],[2.3,-32],[2.38,-31],[2.59,-31],[2.68,-32],[3.19,-32],[3.27,-31],[3.58,-31],[3.67,-32],[3.76,-31],[3.87,-31],[3.98,-33.1],[4.08,-32],[4.37,-32],[4.45,-31],[4.84,-31],[4.96,-32],[5.37,-32],[5.45,-31],[5.53,-32],[5.63,-31],[5.94,-31],[6.05,-32],[6.36,-32],[6.44,-31],[6.94,-31],[7.04,-32],[7.46,-32],[7.54,-31],[7.96,-31]];

const evinC = [[0.08,-82.8],[0.18,-83.9],[0.28,-83.9],[0.37,-85],[0.58,-85],[0.67,-81.9],[0.86,-81.9],[0.96,-82.8],[1.06,-82.8],[1.18,-83.9],[1.28,-83.9],[1.38,-85],[1.58,-85],[1.68,-81.9],[1.88,-81.9],[1.99,-82.8],[2.1,-82.8],[2.18,-83.9],[2.28,-83.9],[2.38,-85],[2.59,-85],[2.68,-83.9],[2.79,-81.9],[2.98,-81.9],[3.08,-82.8],[3.17,-83.9],[3.36,-83.9],[3.46,-85],[3.67,-85],[3.78,-82.8],[3.88,-81.9],[4.08,-81.9],[4.18,-82.8],[4.28,-82.8],[4.38,-83.9],[4.48,-83.9],[4.58,-85],[4.78,-85],[4.88,-81.9],[5.08,-81.9],[5.18,-82.8],[5.28,-82.8],[5.38,-83.9],[5.58,-83.9],[5.68,-85],[5.8,-85],[5.92,-81.9],[6.1,-81.9],[6.2,-82.8],[6.3,-82.8],[6.4,-83.9],[6.5,-83.9],[6.6,-85],[6.78,-85],[6.9,-81.9],[7.08,-81.9],[7.18,-82.8],[7.3,-82.8],[7.4,-83.9],[7.55,-83.9],[7.65,-85],[7.86,-85],[7.96,-82.8]];

const evoutC = [[0.08,-84.1],[0.18,-84.1],[0.27,-85.1],[0.37,-85.1],[0.43,-86],[0.58,-86],[0.67,-83.1],[0.78,-82.1],[0.86,-83.1],[0.96,-83.1],[1.06,-84.1],[1.18,-84.1],[1.28,-85.1],[1.38,-85.1],[1.49,-86],[1.58,-86],[1.68,-82.1],[1.78,-82.1],[1.88,-83.1],[1.99,-84.1],[2.18,-84.1],[2.28,-85.1],[2.48,-85.1],[2.59,-86],[2.68,-84.1],[2.79,-82.1],[2.91,-82.1],[3.0,-83.1],[3.1,-84.1],[3.28,-84.1],[3.38,-85.1],[3.56,-85.1],[3.67,-86],[3.75,-84.1],[3.83,-82.1],[3.98,-82.1],[4.08,-83.1],[4.18,-84.1],[4.38,-84.1],[4.48,-85.1],[4.68,-85.1],[4.78,-86],[4.88,-82.1],[5.0,-82.1],[5.1,-83.1],[5.2,-84.1],[5.38,-84.1],[5.48,-85.1],[5.7,-85.1],[5.8,-86],[5.9,-83.1],[6.0,-82.1],[6.1,-83.1],[6.2,-84.1],[6.4,-84.1],[6.5,-85.1],[6.7,-85.1],[6.8,-86],[6.9,-82.1],[7.05,-82.1],[7.15,-83.1],[7.25,-84.1],[7.45,-84.1],[7.55,-85.1],[7.75,-85.1],[7.85,-86],[7.96,-83.1]];

const cairC = [[0.08,22],[0.2,21],[0.3,22],[0.5,22],[0.68,20],[0.78,22],[0.96,22],[1.08,21],[1.18,22],[1.28,22],[1.39,21],[1.49,22],[1.58,22],[1.68,21],[1.78,21],[1.88,22],[2.1,22],[2.19,21],[2.28,21],[2.38,22],[2.59,22],[2.68,18.1],[2.88,23],[3.05,21],[3.15,21],[3.26,22],[3.36,22],[3.47,21],[3.67,21],[3.78,20],[3.88,22],[3.98,22],[4.08,21],[4.18,22],[4.28,21],[4.38,22],[4.58,22],[4.68,21],[4.78,22],[5.05,22],[5.15,21],[5.25,22],[5.45,22],[5.55,21],[5.65,22],[5.75,22],[5.85,20],[5.95,22],[6.03,21],[6.1,22],[6.18,21],[6.26,22],[6.34,21],[6.42,22],[6.65,22],[6.75,21],[6.85,22],[7.05,22],[7.15,21],[7.25,22],[7.5,22],[7.6,21],[7.7,22],[7.86,22],[7.96,20]];

const heC = [[0.08,-34.4],[0.28,-34.4],[0.37,-33.3],[0.58,-33.3],[0.68,-29.1],[0.78,-34.4],[1.38,-34.4],[1.49,-33.3],[1.58,-33.3],[1.68,-29.1],[1.78,-34.4],[2.28,-34.4],[2.38,-33.3],[2.59,-33.3],[2.68,-32.2],[2.88,-34.4],[3.26,-34.4],[3.36,-33.3],[3.58,-33.3],[3.67,-34.4],[3.78,-29.1],[3.88,-34.4],[4.38,-34.4],[4.48,-33.3],[4.75,-33.3],[4.84,-29.1],[4.96,-34.4],[5.45,-34.4],[5.55,-33.3],[5.75,-33.3],[5.85,-29.1],[5.95,-34.4],[6.4,-34.4],[6.5,-33.3],[6.6,-34.4],[6.7,-33.3],[6.84,-33.3],[6.94,-34.4],[7.6,-34.4],[7.7,-33.3],[7.86,-33.3],[7.96,-29.1]];

const TIME_TICKS = [0, 2, 4, 6, 8];
const STATE_DOMAIN = [-0.76, 3.66];
const STATE_TICKS = [0, 1, 2, 3];

const toPairsA = arr => arr.map((v, i) => [i * HOURS_A, v]);

const blocks = [
  {
    x0: 51, x1: 590, top: 19, bottom: 588.6, h0: 70, h8: 570,
    nameX: 16, tickX: 37, rightX: 607, capX: 326, capY: 637,
    tag: "(a)", caption: " Revco freezer No. 806830: 2014-08-17 00:00-08:00.",
    panels: [
      {name: "RTD", domain: [-82.16, -77.84], ticks: [-82, -81, -80, -79, -78], labels: [-82, -80, -78], data: toPairsA(rtdA), step: toPairsA(stepA)},
      {name: "1st Suc.", domain: [-52, 26], ticks: [-40, -20, 0, 20], labels: [-40, 0], data: toPairsA(suc1A), step: toPairsA(stepA)},
      {name: "Cond. Air In", domain: [14.8, 20.07], ticks: [15, 16, 17, 18, 19], labels: [15, 17, 19], data: toPairsA(cairA), step: toPairsA(stepA)},
      {name: "Evap. In", domain: [-96.6, -53.4], ticks: [-90, -80, -70, -60], labels: [-90, -70], data: toPairsA(evinA), step: toPairsA(stepA)},
      {name: "Evap. Out", domain: [-96.2, -75.6], ticks: [-95, -90, -85, -80], labels: [-95, -85], data: toPairsA(evoutA), step: toPairsA(stepA)},
      {name: "2nd Suc.", domain: [-100, 22], ticks: [-80, -60, -40, -20, 0, 20], labels: [-80, -20], data: toPairsA(suc2A), step: toPairsA(stepA)},
      {name: "2nd Sump", domain: [24.6, 40.3], ticks: [25, 30, 35, 40], labels: [25, 35], data: toPairsA(sumpA), step: toPairsA(stepA)},
      {name: "H.E.", domain: [-53, -13.5], ticks: [-50, -45, -40, -35, -30, -25, -20], labels: [-50, -30], data: toPairsA(heA), step: toPairsA(stepA)}
    ]
  },
  {
    x0: 664, x1: 1204, top: 17, bottom: 586, h0: 683, h8: 1186,
    nameX: 633, tickX: 652, rightX: 1216, capX: 935, capY: 637,
    tag: "(b)", caption: " Revco freezer No. 806830: 2022-08-17 00:00-08:00.",
    panels: [
      {name: "RTD", domain: [-82.16, -77.84], ticks: [-82, -81, -80, -79, -78], labels: [-82, -80, -78], data: rtdB, step: stepB},
      {name: "1st Suc.", domain: [-52, 26], ticks: [-40, -20, 0, 20], labels: [-40, 0], data: suc1B, step: stepB},
      {name: "Cond. Air In", domain: [16.7, 25.4], ticks: [18, 20, 22, 24], labels: [18, 22], data: cairB, step: stepB},
      {name: "Evap. In", domain: [-96.4, -53.6], ticks: [-90, -80, -70, -60], labels: [-90, -70], data: evinB, step: stepB},
      {name: "Evap. Out", domain: [-96.2, -75.6], ticks: [-95, -90, -85, -80], labels: [-95, -85], data: evoutB, step: stepB},
      {name: "2nd Suc.", domain: [-100, 22], ticks: [-80, -60, -40, -20, 0, 20], labels: [-80, -20], data: suc2B, step: stepB},
      {name: "2nd Sump", domain: [34.2, 61.2], ticks: [35, 40, 45, 50, 55, 60], labels: [35, 45, 55], data: sumpB, step: stepB},
      {name: "H.E.", domain: [-51, -13.3], ticks: [-50, -45, -40, -35, -30, -25, -20], labels: [-50, -30], data: heB, step: stepB}
    ]
  },
  {
    x0: 357, x1: 898, top: 674, bottom: 1243, h0: 372, h8: 881,
    nameX: 322, tickX: 343, rightX: null, capX: 628, capY: 1296,
    tag: "(c)", caption: " Haier freezer No. 809216: 2022-08-17 00:00-08:00.",
    panels: [
      {name: "RTD", domain: [-83.7, -76.4], ticks: [-83, -82, -81, -80, -79, -78, -77], labels: [-83, -80, -77], data: rtdC},
      {name: "1st Suc.", domain: [-36.2, -5.7], ticks: [-35, -30, -25, -20, -15, -10], labels: [-35, -20], data: suc1C},
      {name: "1st Dis.", domain: [-40.7, -15.4], ticks: [-40, -35, -30, -25, -20], labels: [-40, -25], data: dis1C},
      {name: "2nd Dis.", domain: [-35.7, -19.5], ticks: [-35, -30, -25, -20], labels: [-35, -25], data: dis2C},
      {name: "Evap. In", domain: [-90.6, -72.1], ticks: [-90, -85, -80, -75], labels: [-90, -80], data: evinC},
      {name: "Evap. Out", domain: [-91.6, -74.3], ticks: [-90, -85, -80, -75], labels: [-90, -80], data: evoutC},
      {name: "Cond. Air In", domain: [16.8, 25.4], ticks: [18, 20, 22, 24], labels: [18, 22], data: cairC},
      {name: "H.E.", domain: [-41.4, -16.9], ticks: [-40, -35, -30, -25, -20], labels: [-40, -30, -20], data: heC}
    ]
  }
];

const svg = d3.select("#chart");
const minus = d => String(d).replace("-", "\u2212");

function rotatedLabels(g, values, xPos, yScale, size) {
  g.selectAll(null).data(values).join("text")
    .attr("transform", d => "translate(" + xPos + "," + yScale(d) + ") rotate(-90)")
    .attr("text-anchor", "middle")
    .attr("dy", "0.35em")
    .style("font-size", size + "px")
    .text(d => minus(d));
}

blocks.forEach(b => {
  const x = d3.scaleLinear().domain([0, 8]).range([b.h0, b.h8]);
  const ph = (b.bottom - b.top) / b.panels.length;

  b.panels.forEach((p, i) => {
    const top = b.top + i * ph, bot = top + ph;
    const y = d3.scaleLinear().domain(p.domain).range([bot, top]);
    const g = svg.append("g");

    if (p.step) {
      const yr = d3.scaleLinear().domain(STATE_DOMAIN).range([bot, top]);
      g.append("path").datum(p.step)
        .attr("fill", "#fcfae1")
        .attr("d", d3.area().x(d => x(d[0])).y0(yr(0)).y1(d => yr(d[1])));
      g.append("path").datum(p.step)
        .attr("fill", "none").attr("stroke", "#c0c0c0").attr("stroke-width", 1.5)
        .attr("d", d3.line().x(d => x(d[0])).y(d => yr(d[1])));
      const ra = g.append("g").attr("transform", "translate(" + b.x1 + ",0)")
        .call(d3.axisRight(yr).tickValues(STATE_TICKS).tickSize(5).tickFormat(""));
      ra.select(".domain").remove();
      rotatedLabels(g, STATE_TICKS, b.rightX, yr, 11);
    }

    g.append("path").datum(p.data)
      .attr("fill", "none").attr("stroke", "#000").attr("stroke-width", 2.7)
      .attr("stroke-linejoin", "round")
      .attr("d", d3.line().x(d => x(d[0])).y(d => y(d[1])));

    g.append("rect")
      .attr("x", b.x0).attr("y", top).attr("width", b.x1 - b.x0).attr("height", ph)
      .attr("fill", "none").attr("stroke", "#111").attr("stroke-width", 1.5);

    const la = g.append("g").attr("transform", "translate(" + b.x0 + ",0)")
      .call(d3.axisLeft(y).tickValues(p.ticks).tickSize(5).tickFormat(""));
    la.select(".domain").remove();
    rotatedLabels(g, p.labels, b.tickX, y, 11);

    g.append("text")
      .attr("transform", "translate(" + b.nameX + "," + (top + ph / 2) + ") rotate(-90)")
      .attr("text-anchor", "middle").attr("dy", "0.35em")
      .style("font-size", "11px")
      .text(p.name);
  });

  const xa = svg.append("g").attr("transform", "translate(0," + b.bottom + ")")
    .call(d3.axisBottom(x).tickValues(TIME_TICKS).tickSize(5).tickPadding(5)
      .tickFormat(d => "0" + d + ":00"));
  xa.selectAll("text").style("font-size", "11px").style("font-family", "'Liberation Sans', Arial, sans-serif");

  const cap = svg.append("text")
    .attr("x", b.capX).attr("y", b.capY).attr("text-anchor", "middle")
    .style("font-size", "18px");
  cap.append("tspan").style("font-family", "Lato, 'Open Sans', sans-serif").style("font-weight", "bold").text(b.tag);
  cap.append("tspan").style("font-family", "'Liberation Serif', 'Times New Roman', serif").text(b.caption);
});
</script>
</body>
</html>
